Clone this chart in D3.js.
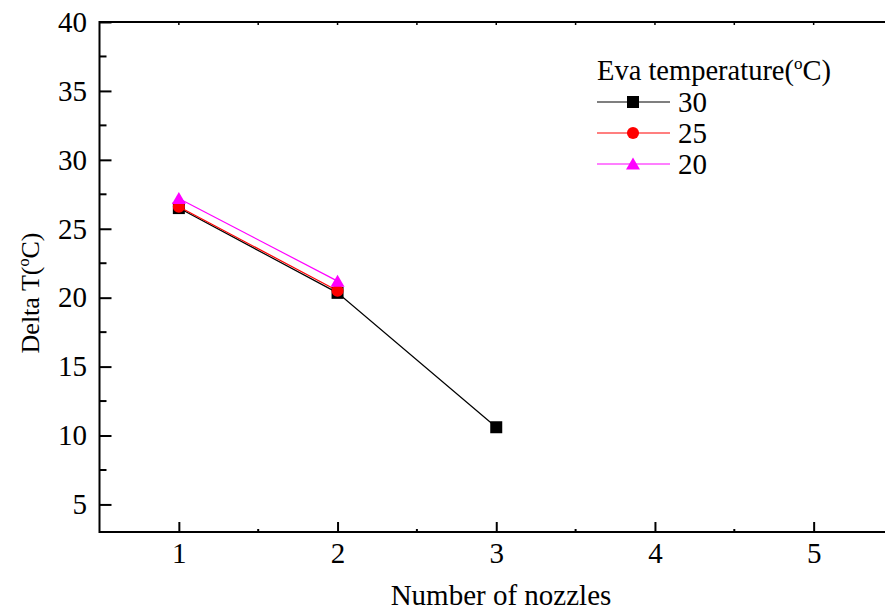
<!DOCTYPE html>
<html><head><meta charset="utf-8">
<script src="https://cdn.jsdelivr.net/npm/d3@7"></script>
<style>html,body{margin:0;padding:0;background:#fff;overflow:hidden}
text{font-family:'Liberation Serif','Times New Roman',serif}</style>
</head><body>
<svg id="chart" width="885" height="614"></svg>
<script>
const nozzles = [1, 2, 3];
const seriesNames = ["30", "25", "20"];
const values30 = [26.5, 20.35, 10.6];
const values25 = [26.6, 20.5];
const values20 = [27.2, 21.2];
const seriesColors = ["#000000", "#ff0000", "#ff00ff"];
const seriesSymbols = ["square", "circle", "triangle"];
const xTicks = [1, 2, 3, 4, 5];
const yTicks = [5, 10, 15, 20, 25, 30, 35, 40];

const series = [values30, values25, values20].map((v, i) => ({
  name: seriesNames[i], color: seriesColors[i], symbol: seriesSymbols[i],
  points: v.map((y, j) => ({x: nozzles[j], y}))
}));

const FONT = "'Liberation Serif','Times New Roman',serif";
const svg = d3.select("#chart");
const L = 99.5, T = 22, B = 532, R = 893;
const x = d3.scaleLinear().domain([0.5, 5.5]).range([L, R]);
const y = d3.scaleLinear().domain([3, 40]).range([B, T]);

// frame
const frame = svg.append("g");
frame.append("line").attr("x1", L).attr("x2", R).attr("y1", T).attr("y2", T);
frame.append("line").attr("x1", L).attr("x2", R).attr("y1", B).attr("y2", B);
frame.append("line").attr("x1", L).attr("x2", L).attr("y1", T - 1).attr("y2", B + 1);
frame.append("line").attr("x1", R).attr("x2", R).attr("y1", T).attr("y2", B);
frame.selectAll("line").attr("stroke", "#000").attr("stroke-width", 2);

// bottom axis
const xAxis = d3.axisBottom(x).tickValues(xTicks).tickSize(-10).tickPadding(10).tickFormat(d3.format("d"));
const gx = svg.append("g").attr("transform", `translate(0,${B})`).call(xAxis)
  .attr("font-family", FONT).attr("font-size", 29);
gx.select(".domain").remove();
gx.selectAll(".tick line").attr("stroke-width", 2);
gx.selectAll("text").attr("fill", "#000");
const xMinor = d3.range(1.5, 5.5, 1);
svg.append("g").selectAll("line").data(xMinor).join("line")
  .attr("x1", d => x(d)).attr("x2", d => x(d)).attr("y1", B).attr("y2", B - 3)
  .attr("stroke", "#000").attr("stroke-width", 2);
// top axis small ticks
svg.append("g").selectAll("line").data(d3.range(1, 5.5, 0.5)).join("line")
  .attr("x1", d => x(d)).attr("x2", d => x(d)).attr("y1", T).attr("y2", T + 3)
  .attr("stroke", "#000").attr("stroke-width", 1.5);

// left axis
const yAxis = d3.axisLeft(y).tickValues(yTicks).tickSize(-12).tickPadding(12.5).tickFormat(d3.format("d"));
const gy = svg.append("g").attr("transform", `translate(${L},0)`).call(yAxis)
  .attr("font-family", FONT).attr("font-size", 29);
gy.select(".domain").remove();
gy.selectAll(".tick line").attr("stroke-width", 2);
gy.selectAll("text").attr("fill", "#000");
const yMinor = d3.range(7.5, 40, 5);
svg.append("g").selectAll("line").data(yMinor).join("line")
  .attr("x1", L).attr("x2", L + 7).attr("y1", d => y(d)).attr("y2", d => y(d))
  .attr("stroke", "#000").attr("stroke-width", 2);

// axis titles
svg.append("text").attr("x", 501).attr("y", 605).attr("text-anchor", "middle")
  .attr("font-family", FONT).attr("font-size", 29).text("Number of nozzles");
const yt = svg.append("text").attr("transform", "translate(39,293) rotate(-90)")
  .attr("text-anchor", "middle").attr("font-family", FONT).attr("font-size", 26);
yt.append("tspan").text("Delta T(");
yt.append("tspan").attr("font-size", 16).attr("dy", -10).text("o");
yt.append("tspan").attr("dy", 10).text("C)");

function symbolPath(sym) {
  if (sym === "square") return d3.symbol(d3.symbolSquare, 144)();
  if (sym === "circle") return d3.symbol(d3.symbolCircle, 115)();
  return "M0,-6.5L7,5.5L-7,5.5Z";
}

const line = d3.line().x(d => x(d.x)).y(d => y(d.y));
series.forEach(s => {
  const g = svg.append("g");
  g.append("path").datum(s.points).attr("d", line).attr("fill", "none")
    .attr("stroke", s.color).attr("stroke-width", 1.2);
  g.selectAll("path.m").data(s.points).join("path").attr("class", "m")
    .attr("transform", d => `translate(${x(d.x)},${y(d.y)})`)
    .attr("d", symbolPath(s.symbol)).attr("fill", s.color);
});

// legend
const lg = svg.append("g");
const lt = lg.append("text").attr("x", 597).attr("y", 80).attr("font-family", FONT).attr("font-size", 28.5);
lt.append("tspan").text("Eva temperature(");
lt.append("tspan").attr("font-size", 17).attr("dy", -11).text("o");
lt.append("tspan").attr("dy", 11).text("C)");
series.forEach((s, i) => {
  const cy = 102 + i * 31;
  lg.append("line").attr("x1", 597).attr("x2", 670).attr("y1", cy).attr("y2", cy)
    .attr("stroke", s.color).attr("stroke-width", 1.2);
  lg.append("path").attr("transform", `translate(633,${cy})`).attr("d", symbolPath(s.symbol)).attr("fill", s.color);
  lg.append("text").attr("x", 678).attr("y", cy + 10).attr("font-family", FONT).attr("font-size", 29).text(s.name);
});
</script>
</body></html>
